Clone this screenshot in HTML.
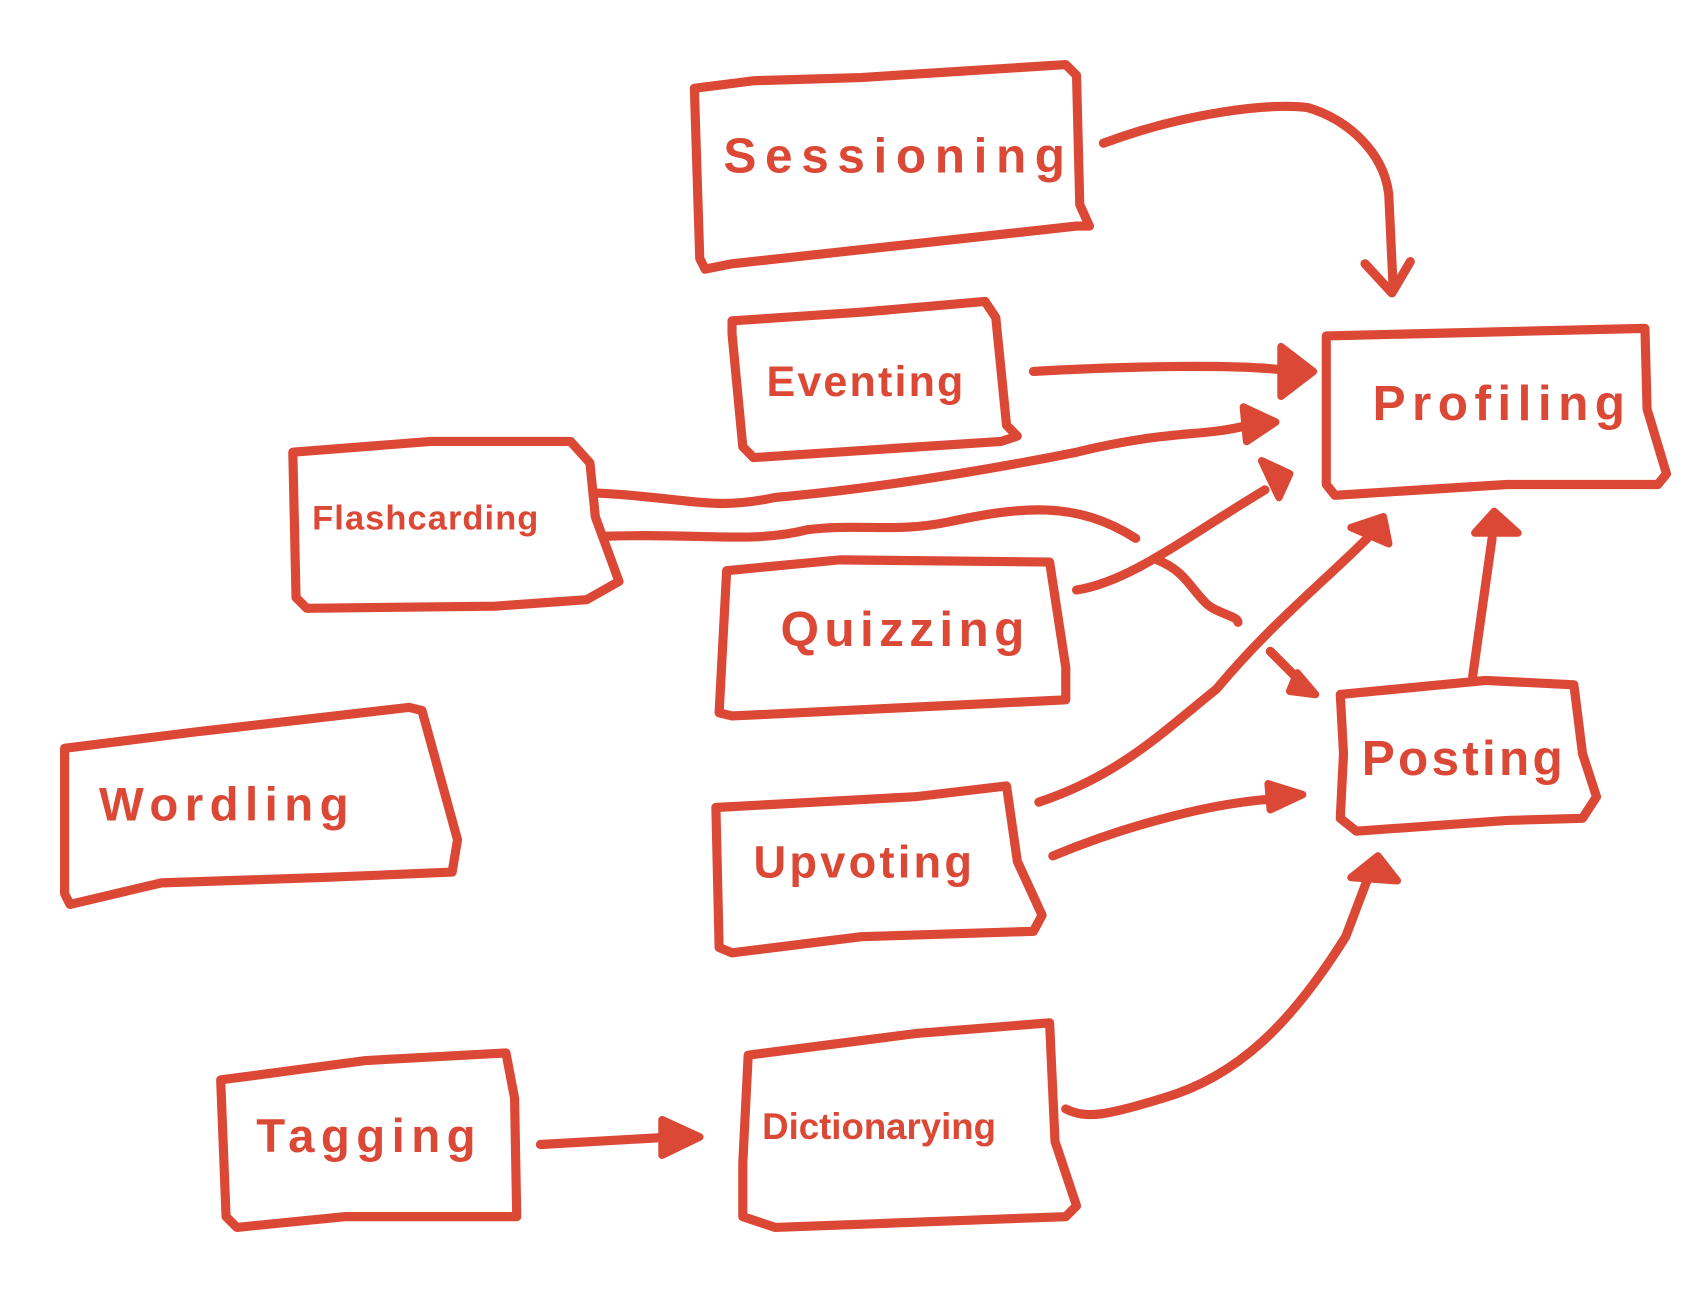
<!DOCTYPE html>
<html><head><meta charset="utf-8"><style>
html,body{margin:0;padding:0;background:#fff;width:1688px;height:1306px;overflow:hidden}
svg{display:block}
text{font-family:"Liberation Sans",sans-serif;fill:#DB4835;font-weight:bold}
</style></head><body>
<svg width="1688" height="1306" viewBox="0 0 1568 1213" preserveAspectRatio="none">
<g fill="none" stroke="#DB4835" stroke-width="8.5" stroke-linejoin="round" stroke-linecap="round">
<!-- boxes -->
<path d="M645,82 L700,75 L800,72 L990,60 L1000,70 L1003,190 L1012,210 L1000,210 L680,245 L655,250 L650,240 Z"/>
<path d="M680,298 L800,290 L915,280 L925,295 L935,395 L945,405 L930,410 L700,425 L690,415 L680,310 Z"/>
<path d="M272,420 L400,410 L530,410 L548,430 L553,480 L575,540 L545,557 L460,563 L285,565 L275,555 Z"/>
<path d="M675,530 L780,520 L975,522 L990,620 L990,650 L680,665 L668,662 Z"/>
<path d="M60,695 L180,680 L380,657 L392,660 L425,780 L420,810 L300,815 L150,820 L65,840 L60,830 Z"/>
<path d="M665,750 L850,740 L935,730 L945,800 L968,850 L960,865 L800,870 L680,885 L668,880 Z"/>
<path d="M205,1003 L340,985 L470,978 L478,1020 L480,1130 L320,1130 L220,1140 L210,1130 Z"/>
<path d="M695,980 L850,960 L975,950 L980,1060 L1000,1120 L990,1130 L720,1140 L690,1130 L690,1080 Z"/>
<path d="M1232,312 L1400,308 L1528,305 L1530,380 L1548,440 L1540,450 L1400,450 L1240,460 L1232,450 Z"/>
<path d="M1245,645 L1380,632 L1462,636 L1470,700 L1483,740 L1470,760 L1400,762 L1260,772 L1245,760 L1248,700 Z"/>
<!-- connectors -->
<path d="M1025,133 C1100,105 1180,95 1215,100 C1250,110 1285,140 1290,180 L1294,265"/>
<path d="M1268,245 L1293,272 L1310,243"/>
<path d="M960,345 C1050,340 1150,338 1195,344"/>
<path d="M555,458 C640,462 660,475 720,462 C800,455 900,440 1000,420 C1080,400 1120,405 1155,396"/>
<path d="M563,498 C650,495 700,505 750,492 C800,486 830,495 880,485 C950,470 1000,465 1055,500"/>
<path d="M1075,520 C1100,530 1105,545 1120,560 C1130,570 1150,572 1150,578"/>
<path d="M1180,605 L1210,635"/>
<path d="M1000,548 C1050,540 1100,500 1175,455"/>
<path d="M965,745 C1040,720 1080,680 1130,640 C1180,580 1230,540 1270,500"/>
<path d="M978,795 C1050,765 1130,745 1185,742"/>
<path d="M1368,628 L1386,500"/>
<path d="M990,1030 C1010,1040 1030,1035 1080,1020 C1150,1000 1200,950 1250,870 L1272,812"/>
<path d="M502,1063 L625,1056"/>
</g>
<g fill="#DB4835" stroke="#DB4835" stroke-width="7" stroke-linejoin="round">
<path d="M1190,322 L1220,345 L1190,368 Z"/>
<path d="M1155,378 L1185,392 L1158,410 Z"/>
<path d="M1172,428 L1198,440 L1188,462 Z"/>
<path d="M1255,490 L1285,480 L1290,505 Z"/>
<path d="M1205,625 L1222,645 L1198,642 Z"/>
<path d="M1178,728 L1210,738 L1180,752 Z"/>
<path d="M1370,495 L1388,475 L1410,495 Z"/>
<path d="M1255,815 L1280,795 L1298,818 Z"/>
<path d="M615,1040 L650,1056 L615,1073 Z"/>
</g>
<text x="672" y="160" font-size="46" letter-spacing="8">Sessioning</text>
<text x="712" y="368" font-size="40" letter-spacing="2">Eventing</text>
<text x="290" y="492" font-size="32" letter-spacing="1">Flashcarding</text>
<text x="725" y="600" font-size="46" letter-spacing="5">Quizzing</text>
<text x="92" y="762" font-size="44" letter-spacing="6">Wordling</text>
<text x="700" y="815" font-size="42" letter-spacing="3">Upvoting</text>
<text x="238" y="1070" font-size="44" letter-spacing="6">Tagging</text>
<text x="708" y="1058" font-size="34" letter-spacing="0">Dictionarying</text>
<text x="1275" y="390" font-size="46" letter-spacing="6">Profiling</text>
<text x="1265" y="720" font-size="46" letter-spacing="3">Posting</text>
</svg>
</body></html>
